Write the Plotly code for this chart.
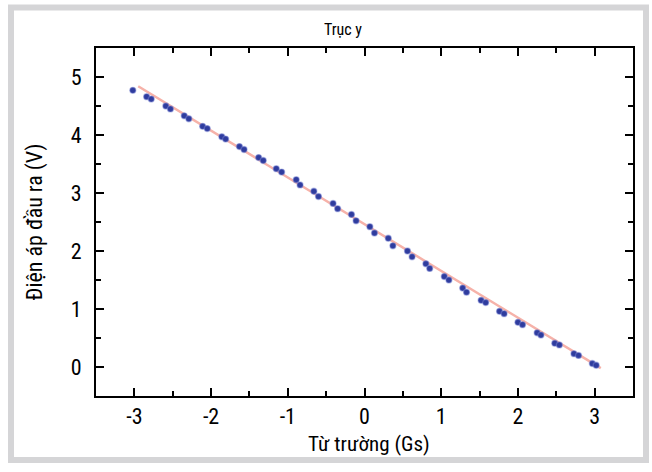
import plotly.graph_objects as go

# Measured points: magnetic field (Gs) vs output voltage (V)
field_gs = [-3.02, -2.84, -2.78, -2.59, -2.53, -2.35, -2.29, -2.11, -2.05, -1.86, -1.81,
            -1.63, -1.57, -1.38, -1.32, -1.15, -1.08, -0.89, -0.84, -0.66, -0.60,
            -0.41, -0.35, -0.17, -0.11, 0.07, 0.13, 0.31, 0.37, 0.56, 0.62,
            0.80, 0.85, 1.04, 1.10, 1.28, 1.33, 1.52, 1.58, 1.76, 1.82,
            2.00, 2.06, 2.25, 2.30, 2.48, 2.54, 2.73, 2.79, 2.97, 3.02]
voltage_v = [4.77, 4.66, 4.62, 4.50, 4.45, 4.33, 4.28, 4.15, 4.11, 3.97, 3.93,
             3.80, 3.75, 3.61, 3.56, 3.42, 3.36, 3.23, 3.14, 3.03, 2.94,
             2.82, 2.73, 2.63, 2.52, 2.42, 2.31, 2.22, 2.09, 2.00, 1.90,
             1.78, 1.70, 1.56, 1.50, 1.36, 1.29, 1.15, 1.11, 0.96, 0.92,
             0.77, 0.73, 0.59, 0.55, 0.41, 0.38, 0.23, 0.20, 0.06, 0.03]

# Linear fit line endpoints
fit_x = [-2.95, 3.08]
fit_y = [4.84, -0.02]

x_ticks = [-3, -2, -1, 0, 1, 2, 3]
y_ticks = [0, 1, 2, 3, 4, 5]

title_text = "Trục y"
x_title = "Từ trường (Gs)"
y_title = "Điện áp đầu ra (V)"

FONT = "Roboto Condensed, DejaVu Sans Condensed, sans-serif"

W, H = 652, 472
ML, MR, MT, MB = 96, 19, 48, 76
PW, PH = W - ML - MR, H - MT - MB


def px_to_paper_x(px):
    return (px - ML) / PW


def px_to_paper_y(py):
    return (H - MB - py) / PH


fig = go.Figure()
fig.add_trace(go.Scatter(
    x=fit_x, y=fit_y, mode="lines",
    line=dict(color="#f6b2a9", width=2.5),
    showlegend=False, hoverinfo="skip"))
fig.add_trace(go.Scatter(
    x=field_gs, y=voltage_v, mode="markers",
    marker=dict(size=6, color="#2f3c9e",
                line=dict(width=1.3, color="rgba(120,130,210,0.45)")),
    showlegend=False))

axis_common = dict(
    showline=True, linecolor="black", linewidth=2, mirror="allticks",
    ticks="inside", ticklen=8, tickwidth=2, tickcolor="black",
    showgrid=False, zeroline=False,
    tickfont=dict(family=FONT, size=22, color="black"),
)

fig.update_layout(
    width=W, height=H,
    margin=dict(l=ML, r=MR, t=MT, b=MB),
    paper_bgcolor="white", plot_bgcolor="white",
    title=dict(text=title_text, x=343 / W, xanchor="center",
               y=1 - 29 / H, yanchor="middle",
               font=dict(family=FONT, size=16, color="black")),
    xaxis=dict(range=[-3.5, 3.5], tickvals=x_ticks,
               ticktext=[str(v) for v in x_ticks],
               ticklabelstandoff=0,
               minor=dict(dtick=0.5, ticks="inside", ticklen=5, tickwidth=2, tickcolor="black"),
               **axis_common),
    yaxis=dict(range=[-0.5, 5.5], tickvals=y_ticks,
               ticktext=[str(v) for v in y_ticks],
               ticklabelstandoff=8,
               minor=dict(dtick=0.5, ticks="inside", ticklen=5, tickwidth=2, tickcolor="black"),
               title=dict(text=y_title, font=dict(family=FONT, size=22, color="black"), standoff=22),
               **axis_common),
)

# x-axis title placed as annotation for precise vertical position
fig.add_annotation(text=x_title, xref="paper", yref="paper",
                   x=px_to_paper_x(369), y=px_to_paper_y(444),
                   xanchor="center", yanchor="middle", showarrow=False,
                   font=dict(family=FONT, size=21, color="black"))

# light-gray outer border
fig.add_shape(type="rect", xref="paper", yref="paper",
              x0=px_to_paper_x(11), x1=px_to_paper_x(646),
              y0=px_to_paper_y(460), y1=px_to_paper_y(7.5),
              line=dict(color="#d5d5d7", width=6), fillcolor="rgba(0,0,0,0)",
              layer="below")

fig.write_html("out.html", config={"displayModeBar": False},
               post_script="document.body.style.margin='0';")
